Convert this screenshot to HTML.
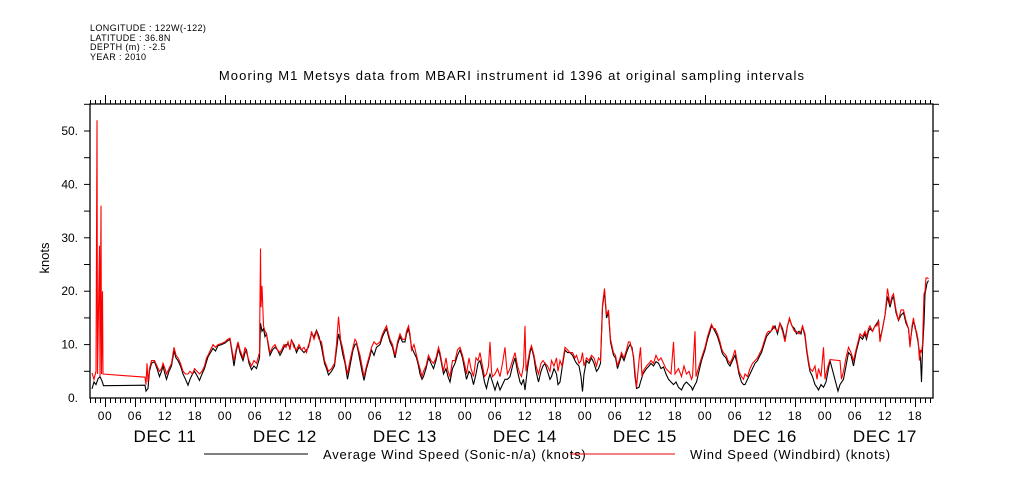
<!DOCTYPE html>
<html><head><meta charset="utf-8"><style>
html,body{margin:0;padding:0;background:#fff;}
svg{display:block;font-family:"Liberation Sans",sans-serif;}
</style></head><body>
<svg id="chart" width="1009" height="504" viewBox="0 0 1009 504">
<g font-size="9" fill="#000" letter-spacing="0.4">
<text x="90" y="31">LONGITUDE : 122W(-122)</text>
<text x="90" y="41">LATITUDE : 36.8N</text>
<text x="90" y="50">DEPTH (m) : -2.5</text>
<text x="90" y="60">YEAR : 2010</text>
</g>
<text x="512" y="80" font-size="13" letter-spacing="1.1" text-anchor="middle">Mooring M1 Metsys data from MBARI instrument id 1396 at original sampling intervals</text>
<text x="0" y="0" font-size="13" text-anchor="middle" transform="translate(49,258) rotate(-90)">knots</text>
<g id="axes"></g>
<g id="series"></g>
<g font-size="13" letter-spacing="0.8">
<line x1="204" y1="454" x2="308" y2="454" stroke="#000" stroke-width="1"/>
<text x="323" y="459">Average Wind Speed (Sonic-n/a) (knots)</text>
<line x1="570" y1="454" x2="675" y2="454" stroke="#e00" stroke-width="1"/>
<text x="690" y="459">Wind Speed (Windbird) (knots)</text>
</g>
</svg>
<script>
// hours since Dec 11 00:00
const blackT=[-2.6,-2.2,-1.8,-1.4,-1.0,-0.6,-0.3,8.0,8.2,8.6,8.9,9.3,9.9,10.4,10.9,11.3,11.6,12.0,12.3,12.8,13.3,13.8,14.2,14.6,15.1,15.6,16.1,16.6,17.0,17.5,17.9,18.4,18.9,19.4,19.9,20.3,20.6,21.1,21.6,22.1,22.6,23.3,24.0,24.5,25.0,25.4,25.8,26.2,26.6,27.0,27.6,28.0,28.3,28.8,29.3,29.8,30.3,30.9,31.1,31.4,31.7,32.0,32.3,32.7,33.0,33.5,34.0,34.5,35.0,35.3,35.8,36.2,36.6,37.0,37.3,37.8,38.3,38.8,39.3,39.8,40.3,40.7,41.0,41.3,41.8,42.3,42.8,43.3,43.9,44.3,44.7,45.3,45.9,46.3,46.7,47.1,47.6,48.0,48.5,49.0,49.6,50.0,50.3,50.7,51.0,51.4,51.8,52.3,52.9,53.3,53.8,54.3,55.0,55.5,56.0,56.3,56.7,57.0,57.5,58.0,58.5,59.0,59.5,60.0,60.3,60.7,61.0,61.3,61.8,62.3,62.7,63.0,63.4,63.7,64.2,64.7,65.2,65.7,66.2,66.7,67.0,67.4,67.7,68.2,68.6,69.0,69.5,70.0,70.5,71.0,71.5,72.0,72.3,72.8,73.2,73.7,74.2,74.6,75.0,75.5,75.9,76.3,76.7,77.0,77.5,78.0,78.5,79.0,79.5,80.0,80.5,81.0,81.5,82.0,82.5,83.0,83.3,83.7,84.0,84.5,85.0,85.3,85.8,86.2,86.7,87.2,87.6,88.0,88.5,89.0,89.3,89.8,90.3,90.6,91.0,91.4,92.0,92.5,93.0,93.5,94.0,94.3,94.8,95.2,95.5,95.8,96.3,96.8,97.3,97.8,98.3,98.7,99.1,99.5,99.9,100.3,100.7,101.1,101.7,102.1,102.5,103.0,103.3,103.8,104.3,104.7,105.0,105.4,105.7,106.0,106.3,106.8,107.1,107.6,108.3,108.8,109.2,109.7,110.2,110.7,111.2,111.7,112.2,112.7,113.2,113.7,114.2,114.7,115.3,115.8,116.3,116.8,117.3,117.5,118.0,118.3,118.8,119.3,120.0,120.5,121.0,121.3,121.7,122.0,122.5,123.0,123.4,123.7,124.2,124.6,125.0,125.5,126.0,126.4,126.8,127.3,127.7,128.0,128.5,129.0,129.5,130.0,130.5,131.0,131.3,131.8,132.3,132.7,133.2,133.6,134.0,134.5,135.0,135.5,136.0,136.5,136.9,137.4,137.9,138.3,138.8,139.2,139.5,140.0,140.3,140.7,141.0,141.5,142.0,142.4,142.7,143.2,143.7,144.2,144.6,145.0,146.6,147.0,147.7,148.2,148.7,149.2,149.7,150.2,150.6,151.0,151.5,152.0,152.3,152.7,153.0,153.5,154.0,154.4,154.7,155.0,155.5,156.0,156.5,157.0,157.4,157.7,158.2,158.7,159.2,159.7,160.2,160.7,161.0,161.4,161.7,162.0,162.3,162.6,162.9,163.1,163.3,163.5,163.8,164.0,164.2,164.4,164.7];
const blackV=[1.7,3.0,2.5,3.6,4.0,3.2,2.3,2.4,1.3,1.8,5.0,6.5,6.8,5.5,4.0,5.0,6.0,4.5,3.5,5.0,6.0,8.8,7.5,7.0,6.0,4.5,3.5,2.4,3.5,4.5,5.0,4.2,3.3,4.5,5.5,6.8,7.7,8.5,9.3,8.8,9.8,10.0,10.3,10.7,11.0,8.5,6.0,8.5,10.2,8.5,7.0,8.5,9.0,6.5,5.3,6.0,5.5,7.5,14.0,12.5,13.0,11.5,12.0,9.5,8.0,9.0,9.5,9.0,8.0,8.5,9.5,10.0,10.0,9.5,10.8,10.0,8.5,9.5,9.0,8.5,9.0,9.5,11.0,12.0,11.5,12.7,11.5,9.5,6.5,5.5,4.3,5.0,6.0,9.0,12.0,10.5,8.0,6.5,3.5,6.0,9.0,10.0,10.2,8.5,7.0,5.0,3.3,5.5,7.5,9.0,8.0,9.5,10.0,11.5,12.5,13.0,11.5,10.5,9.5,7.5,10.0,11.5,10.5,10.5,12.0,13.0,11.5,9.5,8.5,7.5,6.0,4.5,3.5,4.0,5.5,7.5,6.5,5.5,7.0,9.0,8.0,6.0,4.5,5.5,4.0,3.0,5.5,6.5,8.0,9.0,7.5,5.0,3.5,5.0,4.5,2.5,4.5,6.5,7.0,5.0,3.0,1.8,3.5,4.5,3.0,1.5,3.0,1.5,2.5,3.5,3.5,4.0,6.0,7.5,5.0,3.0,2.5,3.5,1.5,5.5,8.5,9.5,7.5,5.0,3.0,5.0,6.0,6.5,5.0,3.5,4.0,5.5,4.5,2.5,3.0,5.5,9.0,8.5,8.5,8.0,7.0,6.5,6.0,4.0,1.2,4.5,7.0,6.5,7.5,6.5,5.0,5.5,6.5,17.0,20.0,15.0,16.0,10.5,8.0,7.5,5.5,7.0,8.0,7.0,8.5,9.5,10.0,9.5,7.5,4.0,1.8,2.0,3.0,4.5,5.5,6.0,6.5,6.0,6.8,6.5,5.5,5.8,4.5,3.5,3.0,2.5,3.0,2.0,1.5,2.5,3.0,2.5,2.0,1.5,2.5,3.0,5.0,7.0,9.0,11.0,12.5,13.5,13.0,12.5,11.5,10.0,8.5,8.0,7.5,6.5,6.0,7.0,8.0,6.5,4.5,3.0,2.5,2.5,3.5,4.5,5.5,6.5,7.0,8.0,8.5,10.0,11.5,12.0,12.5,13.0,13.5,12.0,14.0,13.0,11.0,13.5,14.8,13.5,13.0,12.0,12.5,12.0,13.5,11.5,9.0,6.5,5.0,4.0,2.5,2.0,1.5,2.5,2.0,3.0,5.0,7.0,1.3,2.5,3.5,6.0,8.5,8.0,6.0,8.5,10.0,11.5,11.0,12.0,11.0,12.5,13.0,12.5,13.5,14.0,14.5,11.0,13.0,15.5,19.0,17.0,18.5,19.0,16.0,14.5,15.5,16.0,14.0,13.0,10.0,13.0,14.5,13.5,12.0,10.5,8.5,7.5,3.0,9.0,14.0,19.5,20.5,21.5,22.0];
const redT=[-2.6,-2.2,-1.8,-1.6,-1.5,-1.1,-1.0,-0.8,-0.7,-0.5,-0.4,8.0,8.2,8.4,8.6,8.9,9.3,9.9,10.4,10.9,11.3,11.6,12.0,12.3,12.8,13.3,13.8,14.2,14.6,15.1,15.6,16.1,16.6,17.0,17.5,17.9,18.4,18.9,19.4,19.9,20.3,20.6,21.1,21.6,22.1,22.6,23.3,24.0,24.5,25.0,25.4,25.8,26.2,26.6,27.0,27.6,28.0,28.3,28.8,29.3,29.8,30.3,30.9,31.1,31.2,31.4,31.7,32.0,32.3,32.7,33.0,33.5,34.0,34.5,35.0,35.3,35.8,36.2,36.6,37.0,37.3,37.8,38.3,38.8,39.3,39.8,40.3,40.7,41.0,41.3,41.8,42.3,42.8,43.3,43.9,44.3,44.7,45.3,45.9,46.3,46.7,47.1,47.6,48.0,48.5,49.0,49.6,50.0,50.3,50.7,51.0,51.4,51.8,52.3,52.9,53.3,53.8,54.3,55.0,55.5,56.0,56.3,56.7,57.0,57.5,58.0,58.5,59.0,59.5,60.0,60.3,60.7,61.0,61.3,61.8,62.3,62.7,63.0,63.4,63.7,64.2,64.7,65.2,65.7,66.2,66.7,67.0,67.4,67.7,68.2,68.6,69.0,69.5,70.0,70.5,71.0,71.5,72.0,72.3,72.8,73.2,73.7,74.2,74.6,75.0,75.5,75.9,76.3,76.7,77.0,77.3,77.5,78.0,78.5,79.0,79.5,80.0,80.3,80.5,81.0,81.5,82.0,82.5,83.0,83.3,83.7,84.0,84.2,84.5,85.0,85.3,85.8,86.2,86.7,87.2,87.6,88.0,88.5,89.0,89.3,89.8,90.3,90.6,91.0,91.4,92.0,92.5,93.0,93.5,94.0,94.3,94.8,95.2,95.5,95.8,96.3,96.8,97.3,97.8,98.3,98.7,99.1,99.5,99.9,100.3,100.7,101.1,101.7,102.1,102.5,103.0,103.3,103.8,104.3,104.7,105.0,105.4,105.7,106.0,106.3,106.8,107.1,107.4,107.6,108.3,108.8,109.2,109.7,110.2,110.7,111.2,111.7,112.2,112.7,113.2,113.7,114.0,114.7,115.3,115.8,116.3,116.8,117.3,117.5,118.0,118.2,118.8,119.3,120.0,120.5,121.0,121.3,121.7,122.0,122.5,123.0,123.4,123.7,124.2,124.6,125.0,125.5,126.0,126.4,126.8,127.3,127.7,128.0,128.5,129.0,129.5,130.0,130.5,131.0,131.3,131.8,132.3,132.7,133.2,133.6,134.0,134.5,135.0,135.5,136.0,136.5,136.9,137.4,137.9,138.3,138.8,139.2,139.5,140.0,140.3,140.7,141.0,141.5,142.0,142.4,142.7,143.2,143.7,144.0,144.2,144.6,145.0,147.0,147.3,147.7,148.2,148.7,149.2,149.7,150.2,150.6,151.0,151.5,152.0,152.3,152.7,153.0,153.5,154.0,154.4,154.7,155.0,155.5,156.0,156.5,157.0,157.4,157.7,158.2,158.7,159.2,159.7,160.2,160.7,161.0,161.4,161.7,162.0,162.3,162.6,162.9,163.1,163.3,163.5,163.8,164.0,164.2,164.5,164.7];
const redV=[4.7,3.5,5.0,52.0,4.5,28.5,4.0,36.0,4.5,20.0,4.5,3.9,2.5,6.5,3.0,5.5,7.0,7.0,6.0,5.0,5.5,6.5,5.5,4.5,5.5,6.5,9.5,8.0,7.5,6.5,5.0,4.5,4.5,5.0,4.5,5.5,5.0,4.5,5.0,6.0,7.5,8.0,9.0,10.0,9.5,10.0,10.2,10.5,11.0,11.2,9.0,7.0,9.0,10.5,9.0,7.5,9.5,8.5,7.0,6.0,7.0,6.5,8.5,28.0,17.0,21.0,13.5,12.5,12.0,10.0,8.5,9.5,10.0,9.0,8.5,9.0,10.0,9.5,10.5,9.0,11.0,9.5,9.0,10.0,9.0,9.5,8.5,10.0,10.5,12.5,11.0,12.5,11.0,10.5,7.0,6.0,5.0,5.5,6.5,10.0,15.2,11.0,9.0,7.0,4.5,7.0,9.5,11.0,10.5,9.0,8.0,6.0,4.0,6.0,8.0,9.5,10.5,10.0,10.5,12.0,13.0,13.5,12.0,11.0,10.0,8.0,10.5,12.0,11.0,11.0,12.5,13.5,12.0,9.0,10.0,8.0,6.5,5.5,4.0,5.0,6.0,8.0,7.0,6.5,7.5,9.5,8.5,6.5,5.0,7.5,5.0,4.0,7.0,7.0,9.0,9.5,8.0,6.0,4.5,7.5,5.5,4.0,7.5,7.0,8.5,6.0,4.0,4.5,6.0,10.5,5.0,4.0,4.5,5.5,4.0,6.5,9.5,6.0,4.5,5.5,7.0,8.5,6.0,4.5,4.0,6.0,13.5,5.0,6.5,9.0,9.8,8.0,6.0,4.5,6.5,7.0,6.5,6.0,5.0,7.0,6.0,7.5,5.0,7.0,6.0,9.5,9.0,8.5,8.5,7.5,8.0,6.5,7.0,8.5,6.0,7.5,7.0,8.0,7.5,6.0,7.5,7.0,17.5,20.5,15.5,16.5,11.0,8.5,8.0,6.0,7.5,8.5,7.5,9.0,10.5,10.5,9.0,8.0,5.0,2.0,7.0,9.5,4.0,5.0,6.0,6.5,7.0,6.5,8.0,7.0,7.5,6.5,5.5,5.0,4.5,10.5,4.5,5.5,4.0,6.0,4.5,5.0,3.5,4.0,12.5,4.0,6.0,7.5,9.5,11.5,13.0,13.8,13.0,13.0,12.0,10.5,9.0,8.5,8.0,7.0,6.5,7.5,9.0,7.0,5.0,4.0,3.5,4.5,4.0,5.5,6.5,7.0,7.5,8.5,9.0,10.5,12.0,12.5,12.5,13.5,13.0,12.5,14.0,12.5,10.5,13.5,15.0,13.5,12.5,12.5,12.0,12.5,13.5,12.0,9.5,7.0,5.5,5.0,6.0,3.5,5.5,4.0,9.5,3.5,4.5,6.0,7.2,7.0,3.5,5.0,7.5,9.5,8.5,7.0,9.0,10.5,12.0,11.5,12.5,11.5,13.0,13.5,12.5,13.5,13.5,14.5,10.5,13.0,15.5,20.5,17.5,19.0,19.5,16.5,14.5,16.5,16.5,14.5,13.0,9.5,13.5,15.0,13.0,12.5,11.0,7.0,9.0,8.5,10.0,19.5,20.0,22.5,22.5,22.3];
const yTicks=[0,10,20,30,40,50];
const yTickLabels=["0.","10.","20.","30.","40.","50."];
const hourLabels=["00","06","12","18"];
const dayLabels=["DEC 11","DEC 12","DEC 13","DEC 14","DEC 15","DEC 16","DEC 17"];

const NS="http://www.w3.org/2000/svg";
const L=90,R=933,T=104,B=398;
const X0=105,PXH=5;
const xS=h=>X0+h*PXH;
const yS=v=>B-v*5.34;
const hMin=(L-X0)/PXH,hMax=(R-X0)/PXH;
const axes=document.getElementById('axes');
const series=document.getElementById('series');
function mk(tag,attrs,parent){const e=document.createElementNS(NS,tag);for(const k in attrs)e.setAttribute(k,attrs[k]);parent.appendChild(e);return e;}

const frame=mk('rect',{x:L,y:T,width:R-L,height:B-T,fill:'none',stroke:'#000','stroke-width':1.3},axes);



for(let h=Math.ceil(hMin);h<=hMax;h++){
  const x=xS(h)+0.5;
  const six=((h%6)+6)%6===0, day=((h%24)+24)%24===0;
  const bt=mk('line',{x1:x,y1:B,x2:x,y2:B+(six?9:5),stroke:'#000','stroke-width':1},axes);
  
  
  const tt=mk('line',{x1:x,y1:T,x2:x,y2:T-(day?9:4),stroke:'#000','stroke-width':1},axes);
  
  
  if(six){
    const lb=mk('text',{x:xS(h),y:B+22,'font-size':12,'letter-spacing':0.6,'text-anchor':'middle'},axes);
    lb.textContent=hourLabels[(((h%24)+24)%24)/6];
    
    
  }
}
dayLabels.forEach((d,i)=>{
  const t=mk('text',{x:xS(i*24+12),y:B+44,'font-size':17,'letter-spacing':0.8,'text-anchor':'middle'},axes);
  t.textContent=d;
  
  
});
for(let v=5;v<=55;v+=5){
  const y=yS(v);
  const lt=mk('line',{x1:L-6,y1:y,x2:L,y2:y,stroke:'#000','stroke-width':1},axes);
  
  
  const rt=mk('line',{x1:R,y1:y,x2:R+6,y2:y,stroke:'#000','stroke-width':1},axes);
  
  
}
yTicks.forEach((v,i)=>{
  const t=mk('text',{x:L-12,y:yS(v)+4,'font-size':12,'text-anchor':'end'},axes);
  t.textContent=yTickLabels[i];
  
  
});
function pathOf(ts,vs){return ts.map((t,i)=>(i?'L':'M')+xS(t).toFixed(1)+','+yS(vs[i]).toFixed(1)).join('');}
const bl=mk('path',{d:pathOf(blackT,blackV),fill:'none',stroke:'#000','stroke-width':1.1},series);


const rl=mk('path',{d:pathOf(redT,redV),fill:'none',stroke:'#f00','stroke-width':1.1},series);


</script>
</body></html>
